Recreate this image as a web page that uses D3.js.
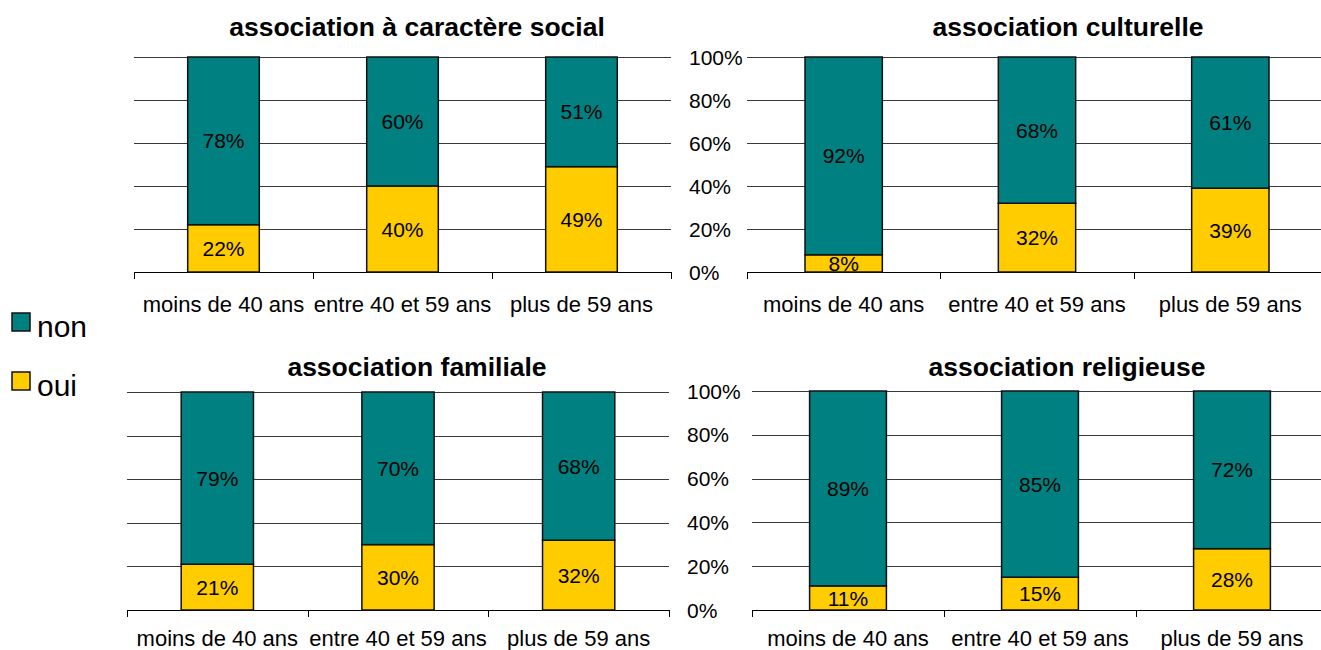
<!DOCTYPE html>
<html>
<head>
<meta charset="utf-8">
<script src="https://cdn.jsdelivr.net/npm/d3@7"></script>
<style>
  body { margin: 0; background: #fff; }
  svg { display: block; font-family: 'Liberation Sans', Arial, sans-serif; }
</style>
</head>
<body>
<script>
  var categories = ['moins de 40 ans', 'entre 40 et 59 ans', 'plus de 59 ans'];
  var titles = ['association à caractère social', 'association culturelle', 'association familiale', 'association religieuse'];
  var seriesNames = ['non', 'oui'];
  var yTicks = [0, 20, 40, 60, 80, 100];

  var ouiSocial = [22, 40, 49];
  var nonSocial = [78, 60, 51];
  var ouiCulturelle = [8, 32, 39];
  var nonCulturelle = [92, 68, 61];
  var ouiFamiliale = [21, 30, 32];
  var nonFamiliale = [79, 70, 68];
  var ouiReligieuse = [11, 15, 28];
  var nonReligieuse = [89, 85, 72];

  var colors = { non: '#008080', oui: '#FFCC00' };

  var w = 1321;
  var h = 650;

  var svg = d3
    .select('body')
    .append('svg')
    .attr('width', w)
    .attr('height', h);

  // panel frames (plot areas)
  var panels = [
    { title: titles[0], oui: ouiSocial, non: nonSocial, x0: 134, x1: 671, top: 57, base: 272, titleX: 417, titleY: 36, labelDy: 40, yLabels: false },
    { title: titles[1], oui: ouiCulturelle, non: nonCulturelle, x0: 747, x1: 1327, top: 57, base: 272, titleX: 1068, titleY: 36, labelDy: 40, yLabels: true, labelX: 689 },
    { title: titles[2], oui: ouiFamiliale, non: nonFamiliale, x0: 127, x1: 669, top: 392, base: 610, titleX: 417, titleY: 376, labelDy: 36, yLabels: false },
    { title: titles[3], oui: ouiReligieuse, non: nonReligieuse, x0: 752, x1: 1328, top: 391, base: 610, titleX: 1067, titleY: 376, labelDy: 36, yLabels: true, labelX: 687 }
  ];

  panels.forEach(function(p) {
    var g = svg.append('g');

    var xScale = d3
      .scaleBand()
      .domain(categories)
      .range([p.x0, p.x1])
      .paddingInner(0.6)
      .paddingOuter(0.3);

    var yScale = d3
      .scaleLinear()
      .domain([0, 100])
      .range([p.base, p.top]);

    // gridlines
    var grid = g
      .append('g')
      .attr('transform', `translate(${p.x0}, 0)`)
      .call(
        d3.axisLeft(yScale)
          .tickValues(yTicks)
          .tickSize(-(p.x1 - p.x0))
          .tickFormat('')
      );
    grid.select('.domain').remove();
    grid.selectAll('line').attr('stroke', '#3a3a3a').attr('shape-rendering', 'crispEdges');

    // category axis with ticks between categories
    var edge = d3
      .scaleLinear()
      .domain([0, categories.length])
      .range([p.x0, p.x1]);
    var xAxis = g
      .append('g')
      .attr('transform', `translate(0, ${p.base})`)
      .call(
        d3.axisBottom(edge)
          .tickValues(d3.range(categories.length + 1))
          .tickSize(7)
          .tickSizeOuter(0)
          .tickFormat('')
      );
    xAxis.selectAll('path, line').attr('stroke', '#000').attr('shape-rendering', 'crispEdges');

    g.append('g')
      .selectAll('text')
      .data(categories)
      .enter()
      .append('text')
      .attr('x', d => xScale(d) + xScale.bandwidth() / 2)
      .attr('y', p.base + p.labelDy)
      .attr('text-anchor', 'middle')
      .attr('font-size', 22)
      .attr('fill', '#000')
      .text(d => d);

    if (p.yLabels) {
      g.append('g')
        .selectAll('text')
        .data(yTicks)
        .enter()
        .append('text')
        .attr('x', p.labelX)
        .attr('y', d => yScale(d))
        .attr('dy', '0.36em')
        .attr('font-size', 21)
        .text(d => d + '%');
    }

    var rows = categories.map(function(c, i) {
      return [
        { cat: c, key: 'oui', y0: 0, y1: p.oui[i], v: p.oui[i] },
        { cat: c, key: 'non', y0: p.oui[i], y1: p.oui[i] + p.non[i], v: p.non[i] }
      ];
    });
    var segs = [].concat.apply([], rows);

    g.append('g')
      .selectAll('rect')
      .data(segs)
      .enter()
      .append('rect')
      .attr('x', d => xScale(d.cat))
      .attr('y', d => yScale(d.y1))
      .attr('width', xScale.bandwidth())
      .attr('height', d => yScale(d.y0) - yScale(d.y1))
      .attr('fill', d => colors[d.key])
      .attr('stroke', '#111')
      .attr('stroke-width', 1.5);

    g.append('g')
      .selectAll('text')
      .data(segs)
      .enter()
      .append('text')
      .attr('x', d => xScale(d.cat) + xScale.bandwidth() / 2)
      .attr('y', d => (yScale(d.y0) + yScale(d.y1)) / 2)
      .attr('dy', '0.36em')
      .attr('text-anchor', 'middle')
      .attr('font-size', 21)
      .text(d => d.v + '%');

    g.append('text')
      .attr('x', p.titleX)
      .attr('y', p.titleY)
      .attr('text-anchor', 'middle')
      .attr('font-size', 26.5)
      .attr('font-weight', 'bold')
      .text(p.title);
  });

  // legend
  var legend = svg
    .append('g')
    .selectAll('g')
    .data(seriesNames)
    .enter()
    .append('g')
    .attr('transform', (d, i) => `translate(12, ${313 + i * 59})`);

  legend
    .append('rect')
    .attr('width', 18)
    .attr('height', 18)
    .attr('fill', d => colors[d])
    .attr('stroke', '#111')
    .attr('stroke-width', 1.5);

  legend
    .append('text')
    .attr('x', 25)
    .attr('y', 24)
    .attr('font-size', 30)
    .text(d => d);
</script>
</body>
</html>
